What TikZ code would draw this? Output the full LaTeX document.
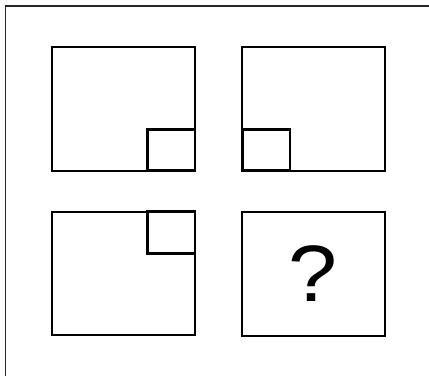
\documentclass[tikz,border=0pt]{standalone}
\usepackage{fontspec}
\setmainfont{Liberation Sans}
\begin{document}
\begin{tikzpicture}[x=1pt,y=-1pt,
  bigbox/.style={draw=black,line width=2pt},
  smallbox/.style={draw=black,line width=2.5pt},
  frame/.style={draw=black!85,line width=1.2pt}]
\useasboundingbox (0,0) rectangle (429,376);
\draw[frame] (5.3,376) -- (5.3,6) -- (429,6);
% box 1
\draw[bigbox] (52.3,46.7) rectangle (195,170.7);
\draw[smallbox] (147.3,129.3) rectangle (195,170.7);
% box 2
\draw[bigbox] (242.3,46.7) rectangle (384.7,170.7);
\draw[smallbox] (242.3,129.3) rectangle (290,170.7);
% box 3
\draw[bigbox] (52.3,211.7) rectangle (195,335);
\draw[smallbox] (147.3,211.7) rectangle (195,253.7);
% box 4
\draw[bigbox] (242.3,212.3) rectangle (385,335.7);
\node[anchor=base,inner sep=0pt,xscale=1.1,font=\fontsize{80}{80}\selectfont] (q) at (313,301.7) {?};
\end{tikzpicture}
\end{document}
